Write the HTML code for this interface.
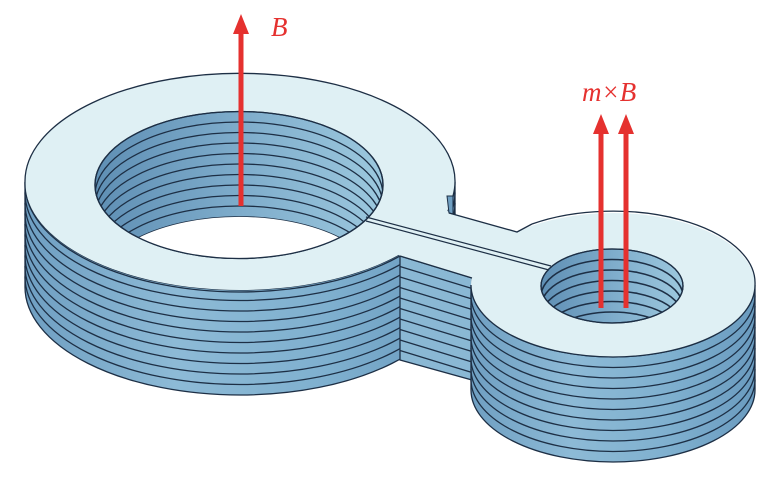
<!DOCTYPE html>
<html><head><meta charset="utf-8"><style>html,body{margin:0;padding:0;background:#fff}svg{display:block}</style></head><body>
<svg width="774" height="477" viewBox="0 0 774 477" xmlns="http://www.w3.org/2000/svg">
<defs>
<linearGradient id="gs" x1="0" x2="1" y1="0" y2="0">
<stop offset="0" stop-color="#6f9fc2"/><stop offset="0.35" stop-color="#8dbad6"/><stop offset="0.7" stop-color="#7fb0cf"/><stop offset="1" stop-color="#6a9bbf"/></linearGradient>
<linearGradient id="gi" x1="0" x2="1" y1="0" y2="0">
<stop offset="0" stop-color="#5f8fb4"/><stop offset="0.5" stop-color="#7eaccb"/><stop offset="1" stop-color="#9cc8de"/></linearGradient>
<clipPath id="bh"><ellipse cx="239" cy="185" rx="144" ry="73.5"/></clipPath>
<clipPath id="sh"><ellipse cx="612" cy="286" rx="71" ry="37"/></clipPath>
</defs>
<g stroke="#1d2f45" stroke-width="1.3" fill="none">
<path d="M25,182 A215,108 0 0 0 455,182 L455,287 A215,108 0 0 1 25,287 Z" fill="url(#gs)"/>
<path d="M25,192.5 A215,108 0 0 0 455,192.5 M25,203 A215,108 0 0 0 455,203 M25,213.5 A215,108 0 0 0 455,213.5 M25,224 A215,108 0 0 0 455,224 M25,234.5 A215,108 0 0 0 455,234.5 M25,245 A215,108 0 0 0 455,245 M25,255.5 A215,108 0 0 0 455,255.5 M25,266 A215,108 0 0 0 455,266 M25,276.5 A215,108 0 0 0 455,276.5"/>
<path d="M400,256 L472,278 L472,380 L400,360 Z" fill="#8ab8d4"/>
<path d="M400,266.5 L472,288.5 M400,277 L472,299 M400,287.5 L472,309.5 M400,298 L472,320 M400,308.5 L472,330.5 M400,319 L472,341 M400,329.5 L472,351.5 M400,340 L472,362 M400,350.5 L472,372.5"/>
<path d="M471,285 A142,72 0 0 0 755,285 L755,390 A142,72 0 0 1 471,390 Z" fill="url(#gs)"/>
<path d="M471,295.5 A142,72 0 0 0 755,295.5 M471,306 A142,72 0 0 0 755,306 M471,316.5 A142,72 0 0 0 755,316.5 M471,327 A142,72 0 0 0 755,327 M471,337.5 A142,72 0 0 0 755,337.5 M471,348 A142,72 0 0 0 755,348 M471,358.5 A142,72 0 0 0 755,358.5 M471,369 A142,72 0 0 0 755,369 M471,379.5 A142,72 0 0 0 755,379.5"/>
<ellipse cx="240" cy="182" rx="215" ry="108" fill="#dff0f4" stroke="none"/>
<ellipse cx="613" cy="285" rx="142" ry="72" fill="#dff0f4" stroke="none"/>
<path d="M440,200 L449,213 L517,232 L540,228 L560,300 L472,278 L400,256 L360,220 Z" fill="#dff0f4" stroke="none"/>
<path d="M453,196 L447,196 L449,213 L453,214 Z" fill="#6f9fc2" stroke-width="1"/>
<path d="M449,213 L517,232 L532,224"/>
<path d="M400,256 L472,278"/>
<ellipse cx="239" cy="185" rx="144" ry="73.5" fill="url(#gi)"/>
<g clip-path="url(#bh)">
<ellipse cx="239" cy="290" rx="144" ry="73.5" fill="#fff" stroke="none"/>
<path d="M95,195.5 A144,73.5 0 0 1 383,195.5 M95,206 A144,73.5 0 0 1 383,206 M95,216.5 A144,73.5 0 0 1 383,216.5 M95,227 A144,73.5 0 0 1 383,227 M95,237.5 A144,73.5 0 0 1 383,237.5 M95,248 A144,73.5 0 0 1 383,248 M95,258.5 A144,73.5 0 0 1 383,258.5 M95,269 A144,73.5 0 0 1 383,269 M95,279.5 A144,73.5 0 0 1 383,279.5"/>
<path d="M95,290 A144,73.5 0 0 1 383,290" stroke-width="0.8"/>
</g>
<ellipse cx="239" cy="185" rx="144" ry="73.5"/>
<ellipse cx="612" cy="286" rx="71" ry="37" fill="url(#gi)"/>
<g clip-path="url(#sh)" stroke-width="1.6">
<path d="M541,296.5 A71,37 0 0 1 683,296.5 M541,307 A71,37 0 0 1 683,307 M541,317.5 A71,37 0 0 1 683,317.5 M541,328 A71,37 0 0 1 683,328 M541,338.5 A71,37 0 0 1 683,338.5 M541,349 A71,37 0 0 1 683,349"/>
</g>
<ellipse cx="612" cy="286" rx="71" ry="37"/>
<path d="M25,182 A215,108 0 1 1 453,196"/>
<path d="M532,224 A142,72 0 0 1 755,285 A142,72 0 0 1 471,285"/>
<path d="M25,182 A215,108 0 0 0 400,256"/>
<path d="M366,217 L551,266" stroke-width="1.2"/>
<path d="M366,221 L549,270" stroke-width="1.2"/>
</g>
<g fill="#e5312f" stroke="none">
<rect x="238.5" y="30" width="5" height="176"/>
<polygon points="241,14 233,34 249,34"/>
<rect x="598.5" y="130" width="5" height="178"/>
<polygon points="601,114 593,134 609,134"/>
<rect x="623.5" y="130" width="5" height="178"/>
<polygon points="626,114 618,134 634,134"/>
</g>
<g fill="#e5312f" font-family="Liberation Serif, serif" font-style="italic" font-size="27">
<text x="271" y="36">B</text>
<text x="582" y="101">m×B</text>
</g>
</svg>
</body></html>
